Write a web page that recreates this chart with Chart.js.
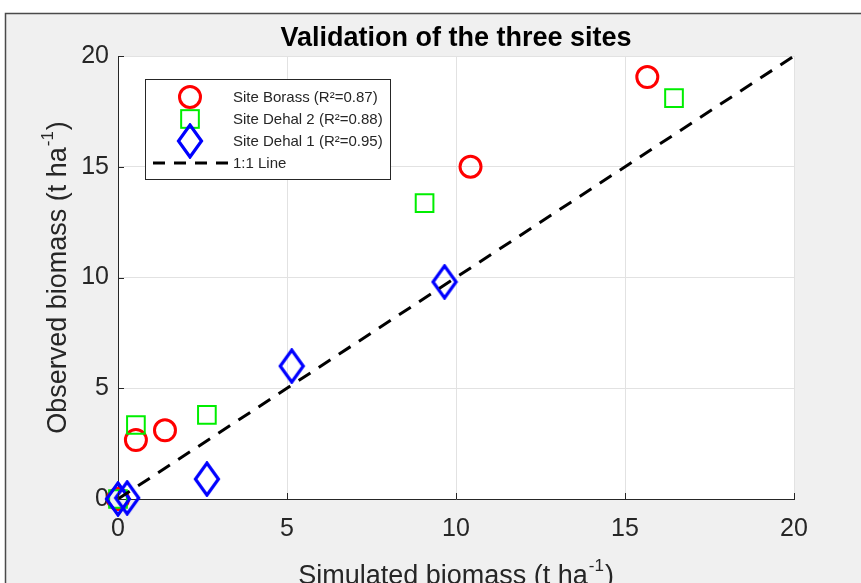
<!DOCTYPE html>
<html>
<head>
<meta charset="utf-8">
<script src="https://cdn.jsdelivr.net/npm/chart.js@4.4.0/dist/chart.umd.min.js"></script>
<style>
  html, body { margin: 0; padding: 0; background: #fff; }
  #wrap { width: 861px; height: 583px; }
</style>
</head>
<body>
<div id="wrap"><canvas id="valChart" width="861" height="583"></canvas></div>
<script>
// Site data (simulated x, observed y), t/ha
const borassSim = [0, 0.53, 1.39, 10.43, 15.66];
const borassObs = [0, 2.66, 3.1, 15.0, 19.05];
const dehal2Sim = [0, 0.53, 2.63, 9.07, 16.45];
const dehal2Obs = [0, 3.34, 3.8, 13.36, 18.1];
const dehal1Sim = [0, 0.27, 2.63, 5.14, 9.66];
const dehal1Obs = [0, 0.05, 0.9, 6.0, 9.8];
const oneToOne = [0, 20];
const tickValues = [0, 5, 10, 15, 20];

const seriesLabels = [
  'Site Borass (R\u00B2=0.87)',
  'Site Dehal 2 (R\u00B2=0.88)',
  'Site Dehal 1 (R\u00B2=0.95)',
  '1:1 Line'
];

const TXT = '#262626';
const FONT = '"Liberation Sans", Arial, Helvetica, sans-serif';

function toPoints(xs, ys) {
  return xs.map((x, i) => ({ x: x, y: ys[i] }));
}

// tall diamond marker (matlab 'd')
function makeDiamond() {
  const c = document.createElement('canvas');
  c.width = 28; c.height = 36;
  const g = c.getContext('2d');
  g.strokeStyle = '#0000ff';
  g.lineWidth = 3.2;
  g.lineJoin = 'miter';
  g.beginPath();
  g.moveTo(14, 2); g.lineTo(25.5, 18); g.lineTo(14, 34); g.lineTo(2.5, 18);
  g.closePath();
  g.stroke();
  return c;
}
const diamondImg = makeDiamond();

// figure frame + white axes background
const framePlugin = {
  id: 'frame',
  beforeDraw(chart) {
    const ctx = chart.ctx;
    const a = chart.chartArea;
    ctx.save();
    ctx.fillStyle = '#ffffff';
    ctx.fillRect(0, 0, chart.width, chart.height);
    ctx.fillStyle = '#f0f0f0';
    ctx.fillRect(5, 13, chart.width - 5, chart.height - 13);
    ctx.strokeStyle = '#4a4a4a';
    ctx.lineWidth = 1.5;
    ctx.beginPath();
    ctx.moveTo(5.5, chart.height);
    ctx.lineTo(5.5, 13.5);
    ctx.lineTo(chart.width, 13.5);
    ctx.stroke();
    ctx.fillStyle = '#ffffff';
    ctx.fillRect(a.left, a.top, a.right - a.left, a.bottom - a.top);
    ctx.restore();
  }
};

function drawSupText(ctx, x, y, base, sup, tail, size, rotate) {
  ctx.save();
  ctx.translate(x, y);
  if (rotate) ctx.rotate(-Math.PI / 2);
  ctx.fillStyle = TXT;
  ctx.textBaseline = 'alphabetic';
  ctx.font = size + 'px ' + FONT;
  const wBase = ctx.measureText(base).width;
  const wTail = ctx.measureText(tail).width;
  ctx.font = Math.round(size * 0.62) + 'px ' + FONT;
  const wSup = ctx.measureText(sup).width;
  const total = wBase + wSup + wTail + 2;
  let cx = -total / 2;
  ctx.textAlign = 'left';
  ctx.font = size + 'px ' + FONT;
  ctx.fillText(base, cx, 0);
  cx += wBase + 1;
  ctx.font = Math.round(size * 0.62) + 'px ' + FONT;
  ctx.fillText(sup, cx, -size * 0.5);
  cx += wSup + 1;
  ctx.font = size + 'px ' + FONT;
  ctx.fillText(tail, cx, 0);
  ctx.restore();
}

// titles, inner ticks and legend
const decorPlugin = {
  id: 'decor',
  afterDraw(chart) {
    const ctx = chart.ctx;
    const a = chart.chartArea;
    const xs = chart.scales.x, ys = chart.scales.y;
    ctx.save();
    // inner tick marks
    ctx.strokeStyle = TXT;
    ctx.lineWidth = 1;
    tickValues.forEach(v => {
      const px = Math.round(xs.getPixelForValue(v)) + 0.5;
      ctx.beginPath(); ctx.moveTo(px, a.bottom); ctx.lineTo(px, a.bottom - 6); ctx.stroke();
      const py = Math.round(ys.getPixelForValue(v)) + 0.5;
      ctx.beginPath(); ctx.moveTo(a.left, py); ctx.lineTo(a.left + 6, py); ctx.stroke();
    });
    // title
    ctx.fillStyle = '#000';
    ctx.font = 'bold 27px ' + FONT;
    ctx.textAlign = 'center';
    ctx.textBaseline = 'alphabetic';
    ctx.fillText('Validation of the three sites', (a.left + a.right) / 2, 46);
    // axis titles
    drawSupText(ctx, (a.left + a.right) / 2, 584, 'Simulated biomass (t ha', '-1', ')', 27, false);
    drawSupText(ctx, 66, (a.top + a.bottom) / 2, 'Observed biomass (t ha', '-1', ')', 27, true);

    // legend box
    const lx = 145, ly = 79, lw = 245, lh = 100;
    ctx.fillStyle = '#fff';
    ctx.fillRect(lx, ly, lw, lh);
    ctx.strokeStyle = '#262626';
    ctx.lineWidth = 1;
    ctx.strokeRect(lx + 0.5, ly + 0.5, lw, lh);
    const rowsY = [97, 119, 141, 163];
    const ds = chart.data.datasets;
    // circle
    ctx.strokeStyle = ds[1].borderColor; ctx.lineWidth = ds[1].borderWidth;
    ctx.beginPath(); ctx.arc(190, rowsY[0], ds[1].pointRadius, 0, Math.PI * 2); ctx.stroke();
    // square
    ctx.strokeStyle = ds[2].borderColor; ctx.lineWidth = ds[2].borderWidth;
    const s = ds[2].pointRadius * Math.SQRT1_2;
    ctx.strokeRect(190 - s, rowsY[1] - s, 2 * s, 2 * s);
    // diamond
    ctx.drawImage(diamondImg, 190 - diamondImg.width / 2, rowsY[2] - diamondImg.height / 2);
    // dashed line
    ctx.strokeStyle = ds[0].borderColor; ctx.lineWidth = ds[0].borderWidth;
    ctx.setLineDash([12, 9]);
    ctx.beginPath(); ctx.moveTo(153, rowsY[3]); ctx.lineTo(228, rowsY[3]); ctx.stroke();
    ctx.setLineDash([]);
    ctx.fillStyle = TXT;
    ctx.font = '15px ' + FONT;
    ctx.textAlign = 'left';
    ctx.textBaseline = 'middle';
    seriesLabels.forEach((t, i) => ctx.fillText(t, 233, rowsY[i] + 1));
    ctx.restore();
  }
};

const tickFont = { family: FONT, size: 25 };

new Chart(document.getElementById('valChart'), {
  type: 'scatter',
  data: {
    datasets: [
      {
        type: 'line',
        label: seriesLabels[3],
        data: toPoints(oneToOne, oneToOne),
        borderColor: '#000000',
        borderWidth: 3,
        borderDash: [14, 10],
        pointRadius: 0,
        fill: false,
        clip: false,
        order: 0
      },
      {
        label: seriesLabels[0],
        data: toPoints(borassSim, borassObs),
        borderColor: '#ff0000',
        backgroundColor: 'rgba(0,0,0,0)',
        borderWidth: 3,
        pointStyle: 'circle',
        pointRadius: 10.5,
        clip: false,
        order: 3
      },
      {
        label: seriesLabels[1],
        data: toPoints(dehal2Sim, dehal2Obs),
        borderColor: '#00ee00',
        backgroundColor: 'rgba(0,0,0,0)',
        borderWidth: 2,
        pointStyle: 'rect',
        pointRadius: 12.5,
        clip: false,
        order: 2
      },
      {
        label: seriesLabels[2],
        data: toPoints(dehal1Sim, dehal1Obs),
        borderColor: '#0000ff',
        backgroundColor: 'rgba(0,0,0,0)',
        pointStyle: diamondImg,
        pointRadius: 12,
        clip: false,
        order: 1
      }
    ]
  },
  options: {
    responsive: false,
    animation: false,
    layout: { padding: { top: 56, right: 67, left: 0, bottom: 0 } },
    plugins: {
      legend: { display: false },
      title: { display: false },
      tooltip: { enabled: false }
    },
    scales: {
      x: {
        type: 'linear',
        min: 0, max: 20,
        afterFit(scale) { scale.height = 84; },
        afterBuildTicks(scale) { scale.ticks = tickValues.map(v => ({ value: v })); },
        ticks: { color: TXT, font: tickFont, padding: 15 },
        grid: { color: '#e2e2e2', drawTicks: false },
        border: { color: TXT, width: 1 }
      },
      y: {
        type: 'linear',
        min: 0, max: 20,
        afterFit(scale) { scale.width = 118; },
        afterBuildTicks(scale) { scale.ticks = tickValues.map(v => ({ value: v })); },
        ticks: { color: TXT, font: tickFont, padding: 9 },
        grid: { color: '#e2e2e2', drawTicks: false },
        border: { color: TXT, width: 1 }
      }
    }
  },
  plugins: [framePlugin, decorPlugin]
});
</script>
</body>
</html>
